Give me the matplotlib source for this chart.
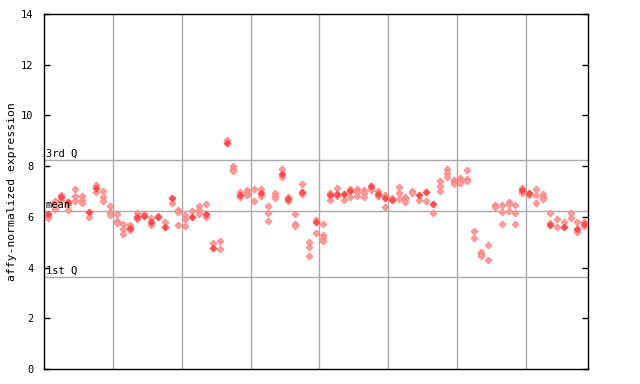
import matplotlib
matplotlib.use("Agg")
import matplotlib.pyplot as plt

# ---- data ----
# per sample: highlighted (solid) replicate values and other (dotted) replicate values
solid_values = [
    [6.10], [], [6.78], [6.58], [], [], [6.20], [7.13], [], [],
    [], [], [5.55], [5.98], [6.03], [5.78], [5.98], [5.60], [6.76], [],
    [], [6.00], [], [6.10], [4.78], [], [8.93], [], [6.87], [],
    [], [6.93], [], [], [7.70], [6.69], [], [6.98], [], [5.80],
    [], [6.85], [6.92], [6.92], [7.03], [], [], [7.23], [6.89], [6.73],
    [6.66], [], [], [], [6.85], [6.99], [6.52], [], [], [],
    [], [], [], [], [], [], [], [], [], [7.06],
    [6.93], [], [], [5.69], [], [5.61], [], [5.52], [5.70],
]
dotted_values = [
    [6.05, 5.97], [6.63, 6.45, 6.30], [6.87, 6.65], [6.45, 6.27], [7.09, 6.82, 6.64],
    [6.84, 6.68, 6.53], [5.98], [7.25, 6.97], [7.02, 6.80, 6.61], [6.43, 6.20, 6.09],
    [6.10, 5.85, 5.75], [5.72, 5.53, 5.31], [5.68, 5.50], [6.14, 5.90], [6.10],
    [5.94, 5.66], [6.05], [5.81], [6.56], [6.27, 6.18, 5.68],
    [6.09, 5.90, 5.64], [6.23], [6.43, 6.26, 6.10], [6.50, 5.98], [4.95],
    [5.05, 4.73], [9.02], [8.00, 7.90, 7.80], [6.98, 6.80], [7.05, 6.96, 6.86],
    [7.08, 6.62], [7.08, 6.82], [6.41, 6.14, 5.83], [6.96, 6.84, 6.73], [7.87, 7.58],
    [6.80, 6.61], [6.10, 5.72, 5.62], [7.28, 6.90], [5.02, 4.83, 4.47], [5.88, 5.35],
    [5.71, 5.30, 5.18, 5.06], [6.95, 6.68], [7.13, 6.83], [6.65], [7.11, 6.79],
    [7.11, 6.98, 6.82], [7.06, 6.93, 6.80], [7.14, 7.06], [7.01, 6.82], [6.86, 6.38],
    [6.73], [7.16, 6.93, 6.69], [6.80, 6.70, 6.60], [7.03, 6.93], [6.65],
    [6.62], [6.14], [7.41, 7.20, 7.03], [7.87, 7.72, 7.57], [7.45, 7.36, 7.28],
    [7.52, 7.43, 7.35], [7.84, 7.48, 7.40], [5.43, 5.15], [4.63, 4.55, 4.47], [4.88, 4.29],
    [6.46, 6.38], [6.47, 6.18, 5.71], [6.58, 6.50, 6.22], [6.47, 6.14, 5.71], [7.15, 6.96],
    [6.88], [7.09, 6.85, 6.53], [6.89, 6.80, 6.71], [6.14, 5.75], [5.91, 5.59],
    [5.78], [6.14, 5.94], [5.78, 5.42], [5.81, 5.64],
]
stat_labels = ["3rd Q", "mean", "1st Q"]
stat_values = [8.23, 6.22, 3.63]
y_ticks = [0, 2, 4, 6, 8, 10, 12, 14]
group_size = 10
y_label = "affy-normalized expression"

# ---- drawing ----
n = len(dotted_values)
mono = "DejaVu Sans Mono"

fig = plt.figure(figsize=(6.4, 3.84), dpi=100)
ax = fig.add_axes([44.3 / 640, 1 - 369 / 384, (587.7 - 44.3) / 640, (369 - 14) / 384])

ax.set_xlim(-0.5, n - 0.5)
ax.set_ylim(0, 14)

# vertical separators between groups of samples
for k in range(group_size, n, group_size):
    ax.axvline(k - 0.5, color="#aaaaaa", lw=1.0, zorder=1)

# statistic lines and labels
for lab, val in zip(stat_labels, stat_values):
    ax.axhline(val, color="#aaaaaa", lw=1.0, zorder=1)
    ax.text(0.003, val + 0.05, lab, transform=ax.get_yaxis_transform(),
            fontsize=7.5, family=mono, color="black", va="bottom", ha="left", zorder=6)

dx, dy = [], []
for i, vals in enumerate(dotted_values):
    for v in vals:
        dx.append(i)
        dy.append(v)
sx, sy = [], []
for i, vals in enumerate(solid_values):
    for v in vals:
        sx.append(i)
        sy.append(v)

ax.scatter(dx, dy, marker="D", s=13, facecolor="#ff9c9c", edgecolor="#ff7070",
           linewidths=0.4, zorder=3)
ax.scatter(sx, sy, marker="D", s=14, facecolor="#ff4d4d", edgecolor="#ff4d4d",
           linewidths=0.4, zorder=4)

ax.set_yticks(y_ticks)
ax.set_yticklabels([str(t) for t in y_ticks], family=mono, fontsize=7.5)
ax.set_xticks([])
ax.tick_params(axis="y", direction="in", length=4, width=1, pad=8,
               right=True, left=True, labelright=False)
for sp in ax.spines.values():
    sp.set_color("black")
    sp.set_linewidth(1.0)

ax.set_ylabel(y_label, family=mono, fontsize=8.2, labelpad=8)
ax.yaxis.set_label_coords(-0.051, 0.5)

fig.savefig("out.png", dpi=100)
